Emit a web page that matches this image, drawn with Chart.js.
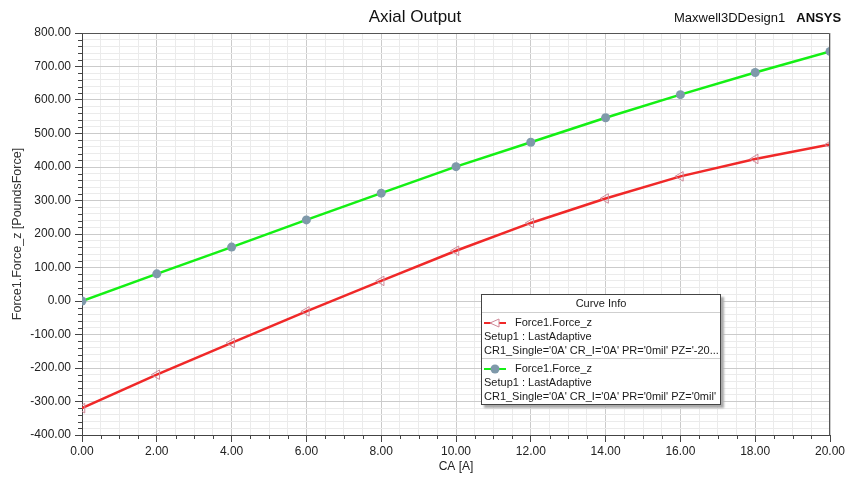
<!DOCTYPE html>
<html>
<head>
<meta charset="utf-8">
<script src="https://cdn.jsdelivr.net/npm/chart.js@4"></script>
<style>
  html, body { margin: 0; padding: 0; background: #fff; }
  #wrap { position: relative; width: 849px; height: 481px; }
  #head { position: absolute; left: 674px; top: 10px; font: 13px "Liberation Sans", Arial, sans-serif; color: #111; white-space: nowrap; }
  #head b { margin-left: 11px; font-weight: bold; }
  #curveInfo {
    position: absolute; left: 481px; top: 294px; width: 238px;
    background: #fff; border: 1px solid #444; box-shadow: 3px 3px 2px #aaa;
    font: 11px "Liberation Sans", Arial, sans-serif; color: #1a1a1a;
  }
  #curveInfo .hdr { height: 17px; line-height: 17px; text-align: center; border-bottom: 1px solid #cfcfcf; }
  #curveInfo .entry { padding: 2px 0 1px 2px; }
  #curveInfo .entry + .entry { border-top: 1px solid #cfcfcf; }
  #curveInfo .ln { height: 14px; line-height: 14px; white-space: nowrap; overflow: hidden; }
  #curveInfo svg { vertical-align: middle; margin-right: 9px; }
</style>
</head>
<body>
<div id="wrap">
  <canvas id="axial" width="849" height="481"></canvas>
  <div id="head">Maxwell3DDesign1<b>ANSYS</b></div>
  <div id="curveInfo">
    <div class="hdr">Curve Info</div>
    <div class="entry">
      <div class="ln"><svg width="22" height="10"><line x1="0" y1="5" x2="22" y2="5" stroke="#f02828" stroke-width="2"/><polygon points="6,5 15,1 15,9" fill="#fff" stroke="#d08898" stroke-width="1"/></svg>Force1.Force_z</div>
      <div class="ln">Setup1 : LastAdaptive</div>
      <div class="ln">CR1_Single='0A' CR_I='0A' PR='0mil' PZ='-20...</div>
    </div>
    <div class="entry">
      <div class="ln"><svg width="22" height="10"><line x1="0" y1="5" x2="22" y2="5" stroke="#14f014" stroke-width="2"/><circle cx="11" cy="5" r="4.5" fill="#7f99aa"/></svg>Force1.Force_z</div>
      <div class="ln">Setup1 : LastAdaptive</div>
      <div class="ln">CR1_Single='0A' CR_I='0A' PR='0mil' PZ='0mil'</div>
    </div>
  </div>
</div>
<script>
// CA [A] sample points
const caValues = [0, 2, 4, 6, 8, 10, 12, 14, 16, 18, 20];
// Force1.Force_z, PZ='-20...' curve (red)
const forceOffset = [-320, -220, -125, -31, 60, 150, 233, 306, 372, 424, 467];
// Force1.Force_z, PZ='0mil' curve (green)
const forceCentered = [0, 81, 161, 242, 322, 401, 474, 547, 616, 682, 745];

const X_MIN = 0, X_MAX = 20, X_MAJOR = 2, X_MINOR = 0.5;
const Y_MIN = -400, Y_MAX = 800, Y_MAJOR = 100, Y_MINOR = 20;

const FONT = '"Liberation Sans", Arial, sans-serif';
const isMult = (v, m) => Math.abs(v / m - Math.round(v / m)) < 1e-6;

function pts(ys) {
  return caValues.map((x, i) => ({ x, y: ys[i] }));
}

// short minor tick marks + top/right frame of the plot box
const frameAndMinorTicks = {
  id: 'frameAndMinorTicks',
  afterDraw(chart) {
    const { ctx, chartArea: a, scales } = chart;
    ctx.save();
    ctx.strokeStyle = '#444';
    ctx.lineWidth = 1;
    ctx.beginPath();
    scales.y.ticks.forEach((t) => {
      if (isMult(t.value, Y_MAJOR)) return;
      const py = Math.round(scales.y.getPixelForValue(t.value)) + 0.5;
      ctx.moveTo(a.left - 4, py);
      ctx.lineTo(a.left, py);
    });
    scales.x.ticks.forEach((t) => {
      if (isMult(t.value, X_MAJOR)) return;
      const px = Math.round(scales.x.getPixelForValue(t.value)) + 0.5;
      ctx.moveTo(px, a.bottom);
      ctx.lineTo(px, a.bottom + 4);
    });
    ctx.stroke();
    ctx.strokeStyle = '#555';
    ctx.beginPath();
    ctx.moveTo(Math.round(a.left) + 0.5, Math.round(a.top) + 0.5);
    ctx.lineTo(Math.round(a.right) - 0.5, Math.round(a.top) + 0.5);
    ctx.lineTo(Math.round(a.right) - 0.5, Math.round(a.bottom) + 0.5);
    ctx.stroke();
    ctx.restore();
  },
};

const gridColor = (major) => (c) => (c.tick && isMult(c.tick.value, major) ? '#cbcbcb' : '#ebebeb');
const tickColor = (major) => (c) => (c.tick && isMult(c.tick.value, major) ? '#444' : 'rgba(0,0,0,0)');

new Chart(document.getElementById('axial'), {
  type: 'line',
  data: {
    datasets: [
      {
        label: 'Force1.Force_z',
        data: pts(forceOffset),
        borderColor: '#f02828',
        borderWidth: 2.5,
        tension: 0,
        pointStyle: 'triangle',
        pointRotation: -90,
        pointRadius: 5.5,
        pointBorderWidth: 1,
        pointBorderColor: '#d08898',
        pointBackgroundColor: 'rgba(255,255,255,0)',
      },
      {
        label: 'Force1.Force_z',
        data: pts(forceCentered),
        borderColor: '#14f014',
        borderWidth: 2.5,
        tension: 0,
        pointStyle: 'circle',
        pointRadius: 4.5,
        pointBorderWidth: 0,
        pointBackgroundColor: '#7f99aa',
      },
    ],
  },
  options: {
    responsive: false,
    animation: false,
    layout: { padding: { left: 0, right: 19, top: 0, bottom: 0 } },
    plugins: {
      legend: { display: false },
      tooltip: { enabled: false },
      title: {
        display: true,
        text: 'Axial Output',
        color: '#111',
        font: { family: '"Liberation Sans Narrow", ' + FONT, size: 17, weight: 'normal' },
        padding: { top: 7, bottom: 5.6 },
      },
    },
    scales: {
      x: {
        type: 'linear',
        min: X_MIN,
        max: X_MAX,
        afterFit: (s) => { s.height = 46; },
        border: { display: true, color: '#444' },
        grid: { color: gridColor(X_MAJOR), tickColor: tickColor(X_MAJOR), tickLength: 7 },
        ticks: {
          stepSize: X_MINOR,
          autoSkip: false,
          maxRotation: 0,
          padding: 2,
          color: '#222',
          font: { family: FONT, size: 12 },
          callback: (v) => (isMult(v, X_MAJOR) ? v.toFixed(2) : ''),
        },
        title: {
          display: true,
          text: 'CA [A]',
          color: '#222',
          font: { family: FONT, size: 12 },
          padding: { top: 0, bottom: 7 },
        },
      },
      y: {
        min: Y_MIN,
        max: Y_MAX,
        afterFit: (s) => { s.width = 82; },
        border: { display: true, color: '#444' },
        grid: { color: gridColor(Y_MAJOR), tickColor: tickColor(Y_MAJOR), tickLength: 7 },
        ticks: {
          stepSize: Y_MINOR,
          autoSkip: false,
          padding: 4,
          color: '#222',
          font: { family: FONT, size: 12 },
          callback: (v) => (isMult(v, Y_MAJOR) ? v.toFixed(2) : ''),
        },
        title: {
          display: true,
          text: 'Force1.Force_z [PoundsForce]',
          color: '#333',
          font: { family: FONT, size: 12.5 },
          padding: { top: 10.5, bottom: 0 },
        },
      },
    },
  },
  plugins: [frameAndMinorTicks],
});
</script>
</body>
</html>
